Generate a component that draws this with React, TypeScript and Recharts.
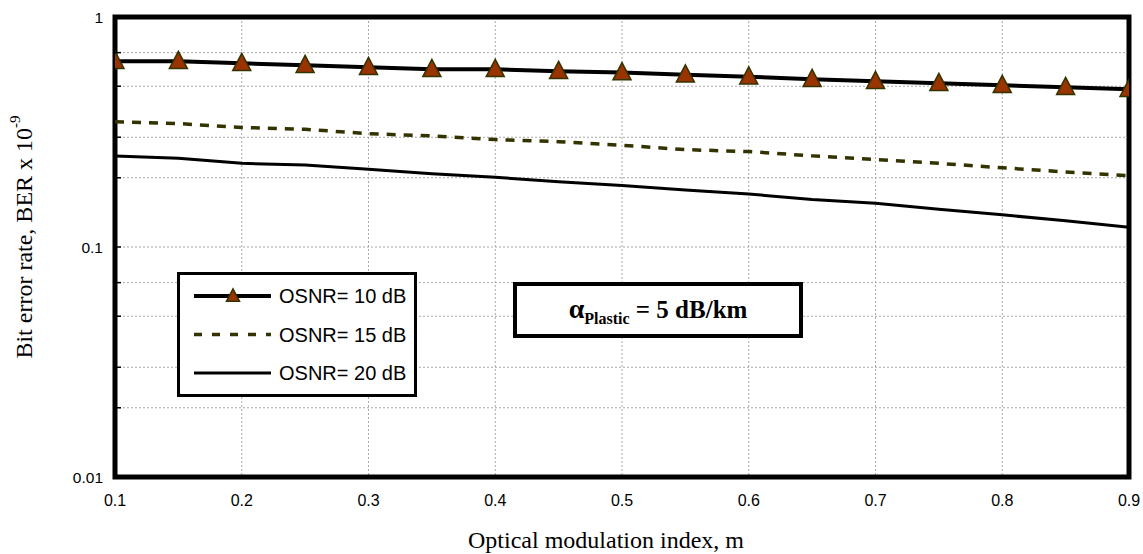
import React from "react";
import { LineChart, Line, XAxis, YAxis, CartesianGrid, ReferenceArea } from "recharts";

// optical modulation index sampled every 0.05
const modIndex = [0.1, 0.15, 0.2, 0.25, 0.3, 0.35, 0.4, 0.45, 0.5, 0.55, 0.6, 0.65, 0.7, 0.75, 0.8, 0.85, 0.9];

// BER (x 1e-9) per OSNR
const berOsnr10 = [0.642, 0.642, 0.629, 0.617, 0.604, 0.592, 0.592, 0.581, 0.573, 0.561, 0.55, 0.536, 0.525, 0.515, 0.505, 0.495, 0.485];
const berOsnr15 = [0.35, 0.344, 0.331, 0.325, 0.311, 0.304, 0.293, 0.287, 0.277, 0.265, 0.26, 0.249, 0.24, 0.231, 0.221, 0.212, 0.204];
const berOsnr20 = [0.249, 0.243, 0.231, 0.227, 0.218, 0.208, 0.201, 0.192, 0.185, 0.177, 0.17, 0.161, 0.155, 0.146, 0.138, 0.13, 0.122];

const xTicks = [0.1, 0.2, 0.3, 0.4, 0.5, 0.6, 0.7, 0.8, 0.9];
const yTicks = [
  0.01, 0.02, 0.03, 0.04, 0.05, 0.06, 0.07, 0.08, 0.09,
  0.1, 0.2, 0.3, 0.4, 0.5, 0.6, 0.7, 0.8, 0.9, 1,
];
const yLabelled = [0.01, 0.1, 1];

const data = modIndex.map((m, i) => ({
  m,
  osnr10: berOsnr10[i],
  osnr15: berOsnr15[i],
  osnr20: berOsnr20[i],
}));

const series = [
  { key: "osnr10", name: "OSNR= 10 dB", color: "#000000", width: 4, dash: undefined, marker: true },
  { key: "osnr15", name: "OSNR= 15 dB", color: "#333300", width: 3.5, dash: "9 8", marker: false },
  { key: "osnr20", name: "OSNR= 20 dB", color: "#000000", width: 3, dash: undefined, marker: false },
];

const W = 1143;
const H = 554;
const sans = "Arial, 'Liberation Sans', sans-serif";
const serif = "'Times New Roman', 'Liberation Serif', serif";

function Triangle({ cx, cy, size = 9 }: { cx: number; cy: number; size?: number }) {
  const h = size * 1.9;
  const pts = `${cx},${cy - h * 0.58} ${cx - size},${cy + h * 0.42} ${cx + size},${cy + h * 0.42}`;
  return <polygon points={pts} fill="#993300" stroke="#333300" strokeWidth={1.5} />;
}

function YTick(props: any) {
  const { x, y, payload } = props;
  const v = payload.value;
  const major = yLabelled.some((d) => Math.abs(d - v) < 1e-9);
  return (
    <g>
      <line x1={x + 12} x2={x + 18} y1={y} y2={y} stroke="#000" strokeWidth={1.5} />
      {major && (
        <text x={x} y={y} dy={5.5} textAnchor="end" fontFamily={sans} fontSize={15.5} fill="#000">
          {v}
        </text>
      )}
    </g>
  );
}

function YTitle() {
  const cx = 24;
  const cy = 237;
  return (
    <text
      x={cx}
      y={cy}
      transform={`rotate(-90 ${cx} ${cy})`}
      textAnchor="middle"
      dominantBaseline="central"
      fontFamily={serif}
      fontSize={24}
      fill="#000"
    >
      Bit error rate, BER x 10
      <tspan dy={-9} fontSize={15}>-9</tspan>
    </text>
  );
}

function XTitle(props: any) {
  const { viewBox } = props;
  return (
    <text
      x={viewBox.x + viewBox.width / 2 - 16}
      y={548}
      textAnchor="middle"
      fontFamily={serif}
      fontSize={24}
      fill="#000"
    >
      Optical modulation index, m
    </text>
  );
}

function LegendBox() {
  return (
    <div
      style={{
        position: "absolute",
        left: 177,
        top: 272,
        width: 234,
        height: 119,
        border: "3px solid #000",
        background: "#fff",
      }}
    >
      <svg width={234} height={119}>
        {series.map((s, i) => {
          const y = 21 + i * 38.5;
          return (
            <g key={s.key}>
              <line
                x1={14}
                x2={91}
                y1={y}
                y2={y}
                stroke={s.color}
                strokeWidth={s.width}
                strokeDasharray={s.dash ? "8 10" : undefined}
              />
              {s.marker && <Triangle cx={53} cy={y} size={6.5} />}
              <text x={99} y={y} dy={7} fontFamily={sans} fontSize={20} fill="#000">
                {s.name}
              </text>
            </g>
          );
        })}
      </svg>
    </div>
  );
}

function NoteBox() {
  return (
    <div
      style={{
        position: "absolute",
        left: 513,
        top: 282,
        width: 282,
        height: 48,
        border: "4px solid #000",
        background: "#fff",
        display: "flex",
        alignItems: "center",
        justifyContent: "center",
        fontFamily: serif,
        fontWeight: "bold",
        fontSize: 25,
        color: "#000",
      }}
    >
      <span>
        <span style={{ fontSize: 28 }}>α</span>
        <sub style={{ fontSize: 16 }}>Plastic</sub> = 5 dB/km
      </span>
    </div>
  );
}

export default function App() {
  return (
    <div style={{ position: "absolute", left: 0, top: 0, width: W, height: H, background: "#fff" }}>
      <LineChart width={W} height={H} data={data} margin={{ top: 17, right: 14, bottom: 37, left: 55 }}>
        <CartesianGrid stroke="#a8a8a8" strokeDasharray="2 2" strokeWidth={1} />
        <XAxis
          dataKey="m"
          type="number"
          domain={[0.1, 0.9]}
          ticks={xTicks}
          allowDataOverflow
          height={40}
          tickLine={false}
          axisLine={false}
          tickSize={0}
          tickMargin={18}
          tickFormatter={(v: number) => v.toFixed(1)}
          tick={{ fontFamily: sans, fontSize: 16, fill: "#000" }}
          label={<XTitle />}
        />
        <YAxis
          type="number"
          scale="log"
          domain={[0.01, 1]}
          ticks={yTicks}
          allowDataOverflow
          width={60}
          tickLine={false}
          axisLine={false}
          tickSize={0}
          tickMargin={12}
          tick={<YTick />}
          label={<YTitle />}
        />
        <ReferenceArea x1={0.1} x2={0.9} y1={0.01} y2={1} fill="none" stroke="#000" strokeWidth={5} />
        {series.map((s) => (
          <Line
            key={s.key}
            dataKey={s.key}
            name={s.name}
            type="linear"
            stroke={s.color}
            strokeWidth={s.width}
            strokeDasharray={s.dash}
            dot={s.marker ? (p: any) => <Triangle key={`t${p.index}`} cx={p.cx} cy={p.cy} /> : false}
            activeDot={false}
            isAnimationActive={false}
          />
        ))}
      </LineChart>
      <LegendBox />
      <NoteBox />
    </div>
  );
}
